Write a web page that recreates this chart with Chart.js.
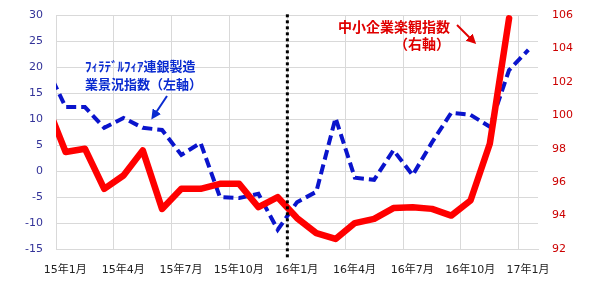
<!DOCTYPE html>
<html><head><meta charset="utf-8">
<script src="https://cdn.jsdelivr.net/npm/chart.js@4/dist/chart.umd.min.js"></script>
<style>
html,body{margin:0;padding:0;background:#fff;}
#wrap{position:relative;width:600px;height:283px;overflow:hidden;}
#c{position:absolute;left:0;top:0;}
.note{position:absolute;font-family:"Noto Sans CJK JP",sans-serif;font-weight:bold;white-space:nowrap;}
#n1{left:85px;top:57px;font-size:13px;line-height:18px;color:#0a2bd0;}
#n2{left:330px;top:18px;width:120px;text-align:right;font-size:14px;line-height:17px;color:#e00000;}
svg{position:absolute;left:0;top:0;}
</style></head><body>
<div id="wrap">
<canvas id="c" width="600" height="283"></canvas>
<div class="note" id="n1">ﾌｨﾗﾃﾞﾙﾌｨｱ連銀製造<br>業景況指数（左軸）</div>
<div class="note" id="n2">中小企業楽観指数<br>（右軸）</div>
<svg width="600" height="283">
<defs>
<marker id="mb" markerWidth="5" markerHeight="5" refX="3.5" refY="2.5" orient="auto"><path d="M0,0 L5,2.5 L0,5 z" fill="#0a2bd0"/></marker>
<marker id="mr" markerWidth="5" markerHeight="5" refX="3.5" refY="2.5" orient="auto"><path d="M0,0 L5,2.5 L0,5 z" fill="#e00000"/></marker>
</defs>
<line x1="167" y1="96" x2="153" y2="117" stroke="#0a2bd0" stroke-width="2" marker-end="url(#mb)"/>
<line x1="457" y1="25" x2="474" y2="42" stroke="#e00000" stroke-width="2" marker-end="url(#mr)"/>
</svg>
</div>
<script>
// Months from 14年12月 to 17年1月
const months = ['14年12月','15年1月','15年2月','15年3月','15年4月','15年5月','15年6月','15年7月','15年8月','15年9月','15年10月','15年11月','15年12月',
  '16年1月','16年2月','16年3月','16年4月','16年5月','16年6月','16年7月','16年8月','16年9月','16年10月','16年11月','16年12月','17年1月'];
// Philadelphia Fed manufacturing index (left axis)
const philly = [20.0, 12.3, 12.3, 8.3, 10.2, 8.3, 7.9, 3.1, 5.4, -5.0, -5.2, -4.4, -11.3,
  -6.0, -4.0, 10.2, -1.3, -1.7, 4.0, -0.8, 5.5, 11.2, 10.8, 8.5, 19.4, 23.3];
// Small business optimism index (right axis)
const nfib = [100.7, 97.8, 98.0, 95.6, 96.4, 97.9, 94.4, 95.6, 95.6, 95.9, 95.9, 94.5, 95.1,
  93.85, 92.95, 92.6, 93.55, 93.8, 94.45, 94.5, 94.4, 94.0, 94.9, 98.3, 105.8, null];
const tickLabels = ['15年1月','15年4月','15年7月','15年10月','16年1月','16年4月','16年7月','16年10月','17年1月'];
const leftTicks = [-15, -10, -5, 0, 5, 10, 15, 20, 25, 30];
const rightTicks = [92, 94, 96, 98, 100, 102, 104, 106];
const dividerMonth = '16年1月';

const firstIdx = months.indexOf('15年1月');
const xOf = i => i - firstIdx;
const phillyPts = philly.map((v, i) => ({x: xOf(i), y: v}));
const nfibPts = nfib.map((v, i) => ({x: xOf(i), y: v}));
const divX = xOf(months.indexOf(dividerMonth)) - 0.5;
const lastX = xOf(months.length - 1) + 1.5;

const font = {family: "'DejaVu Sans','Noto Sans CJK JP',sans-serif", size: 11};
const grid = '#d9d9d9';

new Chart(document.getElementById('c'), {
  type: 'line',
  data: {
    datasets: [
      {data: [{x: divX, y: leftTicks[0] - 1.6}, {x: divX, y: leftTicks[leftTicks.length-1] + 0.2}],
       yAxisID: 'y', borderColor: '#000', borderWidth: 3, borderDash: [3, 3], borderCapStyle: 'butt',
       pointRadius: 0, clip: false},
      {data: nfibPts, yAxisID: 'y1', borderColor: '#ff0000', borderWidth: 6.5, borderJoinStyle: 'round',
       borderCapStyle: 'round', pointRadius: 0, tension: 0},
      {data: phillyPts, yAxisID: 'y', borderColor: '#0a14cc', borderWidth: 4, borderDash: [10, 5],
       borderCapStyle: 'butt', pointRadius: 0, tension: 0}
    ]
  },
  options: {
    responsive: false, animation: false, devicePixelRatio: 1,
    layout: {padding: {top: 15, left: 0, right: 0, bottom: 0}},
    plugins: {legend: {display: false}, tooltip: {enabled: false}},
    scales: {
      x: {
        type: 'linear', position: 'bottom', min: -0.5, max: lastX - 1,
        afterBuildTicks: s => { s.ticks = tickLabels.map((_, k) => ({value: k * 3 - 0.5})); },
        afterFit: s => { s.height = 34; s.paddingLeft = 0; s.paddingRight = 0; },
        ticks: {callback: (v, i) => tickLabels[i], autoSkip: false, maxRotation: 0, minRotation: 0,
                labelOffset: 9.3, padding: 15, color: '#222', font: font},
        grid: {color: grid, drawTicks: false, lineWidth: 1},
        border: {color: grid}
      },
      y: {
        position: 'left', min: leftTicks[0], max: leftTicks[leftTicks.length-1],
        afterBuildTicks: s => { s.ticks = leftTicks.map(v => ({value: v})); },
        afterFit: s => { s.width = 56; s.paddingTop = 0; s.paddingBottom = 0; },
        ticks: {color: '#333399', font: font, padding: 13},
        grid: {color: grid, drawTicks: false},
        border: {display: false}
      },
      y1: {
        position: 'right', min: rightTicks[0], max: rightTicks[rightTicks.length-1],
        afterBuildTicks: s => { s.ticks = rightTicks.map(v => ({value: v})); },
        afterFit: s => { s.width = 62; s.paddingTop = 0; s.paddingBottom = 0; },
        ticks: {color: '#cc0000', font: font, padding: 14},
        grid: {display: false, drawTicks: false},
        border: {display: false}
      }
    }
  }
});
</script>
</body></html>
